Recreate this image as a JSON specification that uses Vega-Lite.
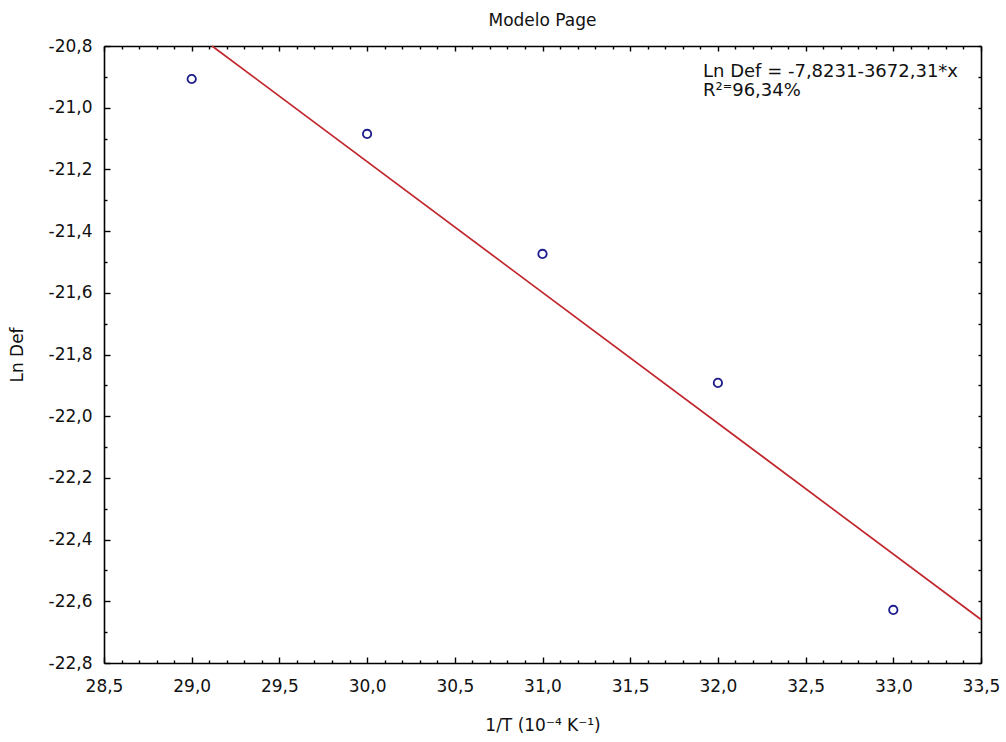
{
  "$schema": "https://vega.github.io/schema/vega-lite/v6.json",
  "width": 877,
  "height": 617,
  "autosize": "none",
  "padding": {"left": 104, "top": 46, "right": 25, "bottom": 79},
  "background": "white",
  "title": {
    "text": "Modelo Page",
    "font": "DejaVu Sans",
    "fontSize": 17,
    "fontWeight": "normal",
    "color": "#111",
    "anchor": "middle",
    "baseline": "alphabetic",
    "offset": -6
  },
  "config": {
    "view": {"stroke": null},
    "axis": {
      "domainColor": "black",
      "domainWidth": 1.6,
      "tickColor": "black",
      "tickWidth": 1.4,
      "grid": false,
      "labelFont": "DejaVu Sans",
      "labelFontSize": 17,
      "labelColor": "#111",
      "titleFont": "DejaVu Sans",
      "titleFontSize": 17,
      "titleFontWeight": "normal",
      "titleColor": "#111"
    }
  },
  "layer": [
    {
      "data": {
        "values": [
          {"invT": 29, "lnDef": -20.907},
          {"invT": 30, "lnDef": -21.085},
          {"invT": 31, "lnDef": -21.474},
          {"invT": 32, "lnDef": -21.892},
          {"invT": 33, "lnDef": -22.628}
        ]
      },
      "mark": {"type": "point", "shape": "circle", "filled": false, "color": "#1c1c8c", "strokeWidth": 1.8, "size": 70, "opacity": 1},
      "encoding": {
        "x": {
          "field": "invT", "type": "quantitative",
          "scale": {"domain": [28.5, 33.5], "nice": false, "zero": false},
          "axis": {
            "orient": "bottom",
            "title": "1/T (10⁻⁴ K⁻¹)",
            "values": [28.5,28.6,28.7,28.8,28.9,29.0,29.1,29.2,29.3,29.4,29.5,29.6,29.7,29.8,29.9,30.0,30.1,30.2,30.3,30.4,30.5,30.6,30.7,30.8,30.9,31.0,31.1,31.2,31.3,31.4,31.5,31.6,31.7,31.8,31.9,32.0,32.1,32.2,32.3,32.4,32.5,32.6,32.7,32.8,32.9,33.0,33.1,33.2,33.3,33.4,33.5],
            "labelExpr": "abs(datum.value*2 - round(datum.value*2)) < 0.001 ? replace(format(datum.value, '.1f'), '.', ',') : ''",
            "labelOverlap": false,
            "labelFlush": false,
            "tickSize": {"condition": {"test": "abs(datum.value*2 - round(datum.value*2)) < 0.001", "value": -6}, "value": -3},
            "labelPadding": 21,
            "titlePadding": 20
          }
        },
        "y": {
          "field": "lnDef", "type": "quantitative",
          "scale": {"domain": [-22.8, -20.8], "nice": false, "zero": false},
          "axis": {
            "orient": "left",
            "title": "Ln Def",
            "values": [-22.8,-22.7,-22.6,-22.5,-22.4,-22.3,-22.2,-22.1,-22.0,-21.9,-21.8,-21.7,-21.6,-21.5,-21.4,-21.3,-21.2,-21.1,-21.0,-20.9,-20.8],
            "labelExpr": "abs(datum.value*5 - round(datum.value*5)) < 0.001 ? (datum.value < 0 ? '-' : '') + replace(format(abs(datum.value), '.1f'), '.', ',') : ''",
            "labelOverlap": false,
            "labelFlush": false,
            "tickSize": {"condition": {"test": "abs(datum.value*5 - round(datum.value*5)) < 0.001", "value": -6}, "value": -3},
            "labelPadding": 18,
            "titlePadding": 22
          }
        }
      }
    },
    {
      "data": {
        "values": [
          {"invT": 29.116, "lnDef": -20.8},
          {"invT": 33.5, "lnDef": -22.659}
        ]
      },
      "mark": {"type": "line", "color": "#c0262c", "strokeWidth": 1.7},
      "encoding": {
        "x": {
          "field": "invT", "type": "quantitative",
          "axis": {
            "orient": "top",
            "title": null,
            "labels": false,
            "values": [28.5,28.6,28.7,28.8,28.9,29.0,29.1,29.2,29.3,29.4,29.5,29.6,29.7,29.8,29.9,30.0,30.1,30.2,30.3,30.4,30.5,30.6,30.7,30.8,30.9,31.0,31.1,31.2,31.3,31.4,31.5,31.6,31.7,31.8,31.9,32.0,32.1,32.2,32.3,32.4,32.5,32.6,32.7,32.8,32.9,33.0,33.1,33.2,33.3,33.4,33.5],
            "tickSize": {"condition": {"test": "abs(datum.value*2 - round(datum.value*2)) < 0.001", "value": -5}, "value": -3}
          }
        },
        "y": {
          "field": "lnDef", "type": "quantitative",
          "axis": {
            "orient": "right",
            "title": null,
            "labels": false,
            "values": [-22.8,-22.7,-22.6,-22.5,-22.4,-22.3,-22.2,-22.1,-22.0,-21.9,-21.8,-21.7,-21.6,-21.5,-21.4,-21.3,-21.2,-21.1,-21.0,-20.9,-20.8],
            "tickSize": -3
          }
        }
      }
    },
    {
      "data": {"values": [{"label": "Ln Def = -7,8231-3672,31*x\nR²⁼96,34%"}]},
      "mark": {
        "type": "text",
        "font": "DejaVu Sans",
        "fontSize": 18,
        "color": "#111",
        "align": "left",
        "baseline": "alphabetic",
        "lineBreak": "\n",
        "lineHeight": 19
      },
      "encoding": {
        "x": {"datum": 31.915, "type": "quantitative", "axis": null},
        "y": {"datum": -20.9005, "type": "quantitative", "axis": null},
        "text": {"field": "label"}
      }
    }
  ],
  "resolve": {"axis": {"x": "independent", "y": "independent"}}
}
